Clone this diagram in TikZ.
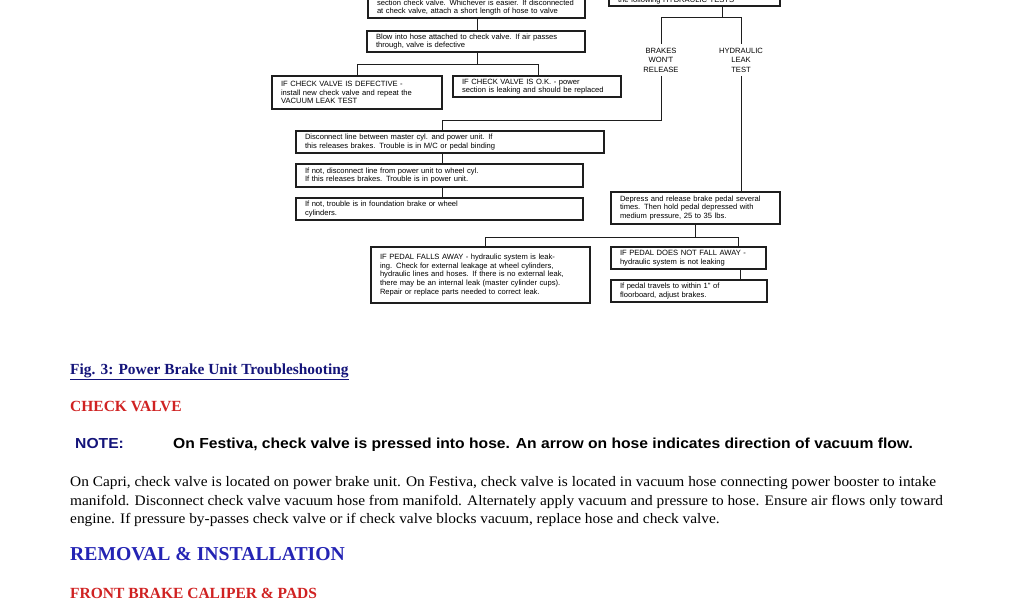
\documentclass[tikz,border=0pt]{standalone}
\usepackage{fontspec}
\setmainfont{Liberation Serif}
\newfontfamily\arialf{Liberation Sans}
\newfontfamily\arialw[FakeStretch=1.08]{Liberation Sans}
\newfontfamily\timesw[FakeStretch=1.06]{Liberation Serif}
\usetikzlibrary{calc}
\definecolor{navy}{HTML}{14147A}
\definecolor{hred}{HTML}{D02222}
\definecolor{hblue}{HTML}{2424B4}
\definecolor{ink}{HTML}{1E1E1E}
\newcommand\fl[1]{\mbox{#1}}
\begin{document}
\begin{tikzpicture}[x=1pt,y=-1pt,
  fbox/.style={draw=ink, line width=1.1pt, inner xsep=9pt, inner ysep=0pt, outer sep=0pt,
    anchor=north west, align=left, font=\arialf\fontsize{7.6}{8.7}\selectfont},
  conn/.style={draw=ink, line width=0.9pt},
  lbl/.style={align=center, font=\arialf\fontsize{7.6}{9.5}\selectfont, inner sep=0pt, outer sep=4pt},
  head/.style={anchor=base west, inner sep=0pt, font=\bfseries\fontsize{15.5}{17}\selectfont},
  bodyl/.style={anchor=base west, inner sep=0pt, font=\timesw\fontsize{14.5}{16}\selectfont}]
\useasboundingbox (0,0) rectangle (1024,600);
\clip (0,0) rectangle (1024,600);
\fill[white] (0,0) rectangle (1024,600);

% ---- flowchart boxes
\node[fbox, minimum width=217pt, minimum height=21pt, text width=199pt] (top) at (368,-3)
  {\fl{section check valve. Whichever is easier. If disconnected}\\\fl{at check valve, attach a short length of hose to valve}};
\node[fbox, minimum width=171pt, minimum height=10pt, text width=153pt] (tr) at (609,-4)
  {\fl{the following HYDRAULIC TESTS}};
\node[fbox, minimum width=218pt, minimum height=21pt, text width=200pt] (blow) at (367,31)
  {\fl{Blow into hose attached to check valve. If air passes}\\\fl{through, valve is defective}};
\node[fbox, minimum width=170pt, minimum height=33pt, text width=152pt] (defect) at (272,76)
  {\fl{IF CHECK VALVE IS DEFECTIVE -}\\\fl{install new check valve and repeat the}\\\fl{VACUUM LEAK TEST}};
\node[fbox, minimum width=168pt, minimum height=21pt, text width=150pt] (ok) at (453,76)
  {\fl{IF CHECK VALVE IS O.K. - power}\\\fl{section is leaking and should be replaced}};
\node[fbox, minimum width=308pt, minimum height=22pt, text width=290pt] (disc) at (296,131)
  {\fl{Disconnect line between master cyl. and power unit. If}\\\fl{this releases brakes. Trouble is in M/C or pedal binding}};
\node[fbox, minimum width=287pt, minimum height=23pt, text width=269pt] (ifa) at (296,164)
  {\fl{If not, disconnect line from power unit to wheel cyl.}\\\fl{If this releases brakes. Trouble is in power unit.}};
\node[fbox, minimum width=287pt, minimum height=22pt, text width=269pt] (ifb) at (296,198)
  {\fl{If not, trouble is in foundation brake or wheel}\\\fl{cylinders.}};
\node[fbox, minimum width=169pt, minimum height=32pt, text width=151pt] (dep) at (611,192)
  {\fl{Depress and release brake pedal several}\\\fl{times. Then hold pedal depressed with}\\\fl{medium pressure, 25 to 35 lbs.}};
\node[fbox, minimum width=219pt, minimum height=56pt, text width=201pt] (falls) at (371,247)
  {\fl{IF PEDAL FALLS AWAY - hydraulic system is leak-}\\\fl{ing. Check for external leakage at wheel cylinders,}\\\fl{hydraulic lines and hoses. If there is no external leak,}\\\fl{there may be an internal leak (master cylinder cups).}\\\fl{Repair or replace parts needed to correct leak.}};
\node[fbox, minimum width=155pt, minimum height=22pt, text width=137pt] (dnf) at (611,247)
  {\fl{IF PEDAL DOES NOT FALL AWAY -}\\\fl{hydraulic system is not leaking}};
\node[fbox, minimum width=156pt, minimum height=22pt, text width=138pt] (trav) at (611,280)
  {\fl{If pedal travels to within 1" of}\\\fl{floorboard, adjust brakes.}};

% ---- labels
\node[lbl] (brk) at (661,60) {BRAKES\\WON'T\\RELEASE};
\node[lbl] (hyd) at (741,60) {HYDRAULIC\\LEAK\\TEST};

% ---- junction coordinates
\coordinate (j1) at (477,64);
\coordinate (cdl) at (357,64);
\coordinate (cdr) at (538,64);
\coordinate (jt) at (722,17);
\coordinate (cbl) at (661,17);
\coordinate (chr) at (741,17);
\coordinate (cb1) at (661,120);
\coordinate (cb2) at (442,120);
\coordinate (jd) at (695,237);
\coordinate (cl) at (485,237);
\coordinate (cr) at (738,237);
\coordinate (ct) at (740,0);

% ---- connectors
\draw[conn] (top.south -| j1) -- (blow.north -| j1);
\draw[conn] (blow.south -| j1) -- (j1);
\draw[conn] (defect.north -| cdl) -- (cdl) -- (cdr) -- (ok.north -| cdr);
\draw[conn] (tr.south -| jt) -- (jt);
\draw[conn] (brk.north) -- (cbl) -- (chr) -- (hyd.north);
\draw[conn] (brk.south) -- (cb1) -- (cb2) -- (disc.north -| cb2);
\draw[conn] (hyd.south) -- (dep.north -| hyd.south);
\draw[conn] (disc.south -| cb2) -- (ifa.north -| cb2);
\draw[conn] (ifa.south -| cb2) -- (ifb.north -| cb2);
\draw[conn] (dep.south -| jd) -- (jd);
\draw[conn] (falls.north -| cl) -- (cl) -- (cr) -- (dnf.north -| cr);
\draw[conn] (dnf.south -| ct) -- (trav.north -| ct);

% ---- text below
\node[anchor=base west, inner sep=0pt, text=navy, font=\bfseries\fontsize{15.4}{17}\selectfont] (fig) at (70,374)
  {\underline{Fig. 3: Power Brake Unit Troubleshooting}};
\node[head, text=hred] (chk) at (70,411) {CHECK VALVE};
\node[anchor=base west, inner sep=0pt, text=navy, font=\arialw\bfseries\fontsize{14.5}{16}\selectfont] (note) at (75,448) {NOTE:};
\node[anchor=base west, inner sep=0pt, text=black, font=\arialw\bfseries\fontsize{14.5}{16}\selectfont] (notet) at (173,448)
  {On Festiva, check valve is pressed into hose. An arrow on hose indicates direction of vacuum flow.};
\node[bodyl] (b1) at (70,486) {On Capri, check valve is located on power brake unit. On Festiva, check valve is located in vacuum hose connecting power booster to intake};
\node[bodyl] (b2) at (70,505) {manifold. Disconnect check valve vacuum hose from manifold. Alternately apply vacuum and pressure to hose. Ensure air flows only toward};
\node[bodyl] (b3) at (70,523) {engine. If pressure by-passes check valve or if check valve blocks vacuum, replace hose and check valve.};
\node[anchor=base west, inner sep=0pt, text=hblue, font=\bfseries\fontsize{19.7}{21}\selectfont] (rem) at (70,560) {REMOVAL \& INSTALLATION};
\node[head, text=hred] (front) at (70,598) {FRONT BRAKE CALIPER \& PADS};
\end{tikzpicture}
\end{document}
